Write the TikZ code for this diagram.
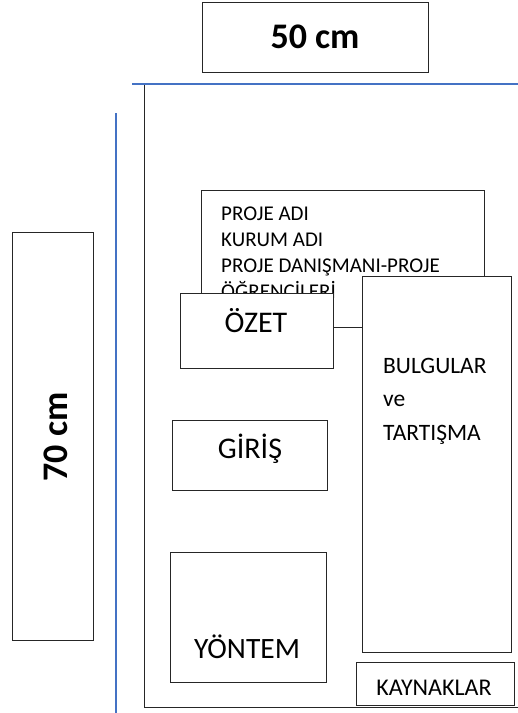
\documentclass[tikz,border=0pt]{standalone}
\usepackage{fontspec}
\setmainfont{Carlito}
\usepackage{tikz}
\usetikzlibrary{positioning}
\definecolor{olcumavi}{RGB}{68,114,196}

\tikzset{
  kutu/.style={draw=black!85, line width=0.9pt, fill=white, inner sep=0pt},
  olcu/.style={draw=olcumavi, line width=1.5pt},
  yazi/.style={inner sep=0pt, anchor=base, text=black},
}

\begin{document}
\begin{tikzpicture}[x=1pt, y=-1pt]
    \useasboundingbox (0,0) rectangle (518,713);

    % Olculer
    \node[kutu, minimum width=226pt, minimum height=70pt] (en) at (315,37) {};
    \node[yazi, font=\fontsize{36}{40}\selectfont\bfseries] (entxt) at (315,48) {50 cm};
    \node[kutu, minimum width=81pt, minimum height=408pt] (boy) at (52.5,436) {};
    \node[yazi, rotate=90, font=\fontsize{36}{40}\selectfont\bfseries] (boytxt) at (67,437) {70 cm};

    % Poster cercevesi
    \draw[black!85, line width=0.9pt] (144,84) -- (144,707) -- (518,707);
    \draw[olcu] (132,84) -- (518,84);
    \draw[olcu] (116,113) -- (116,713);

    % Proje bilgileri (base = son satir)
    \node[kutu, minimum width=283pt, minimum height=137pt] (proje) at (342.5,258.5) {};
    \node[inner sep=0pt, anchor=base west, align=left,
          font=\fontsize{21}{26}\selectfont] (projetxt) at (221,298)
          {PROJE ADI\\KURUM ADI\\PROJE DANIŞMANI-PROJE\\ÖĞRENCİLERİ};

    % Bolumler
    \node[kutu, minimum width=153pt, minimum height=75pt] (ozet) at (256.5,330.5) {};
    \node[yazi, font=\fontsize{30}{34}\selectfont] (ozettxt) at (256,332) {ÖZET};

    \node[kutu, minimum width=149pt, minimum height=376pt] (bulgu) at (436.5,464) {};
    \node[inner sep=0pt, anchor=base west, align=left,
          font=\fontsize{23.5}{33.5}\selectfont] (bulgutxt) at (383,440)
          {BULGULAR\\ve\\TARTIŞMA};

    \node[kutu, minimum width=155pt, minimum height=70pt] (giris) at (249.5,455) {};
    \node[yazi, font=\fontsize{30}{34}\selectfont] (giristxt) at (250,458) {GİRİŞ};

    \node[kutu, minimum width=156pt, minimum height=130pt] (yontem) at (248,617) {};
    \node[yazi, font=\fontsize{29.5}{33}\selectfont] (yontemtxt) at (247,658) {YÖNTEM};

    \node[kutu, minimum width=158pt, minimum height=43pt] (kaynak) at (435,683.5) {};
    \node[yazi, font=\fontsize{24}{27}\selectfont] (kaynaktxt) at (434,695) {KAYNAKLAR};
\end{tikzpicture}
\end{document}
